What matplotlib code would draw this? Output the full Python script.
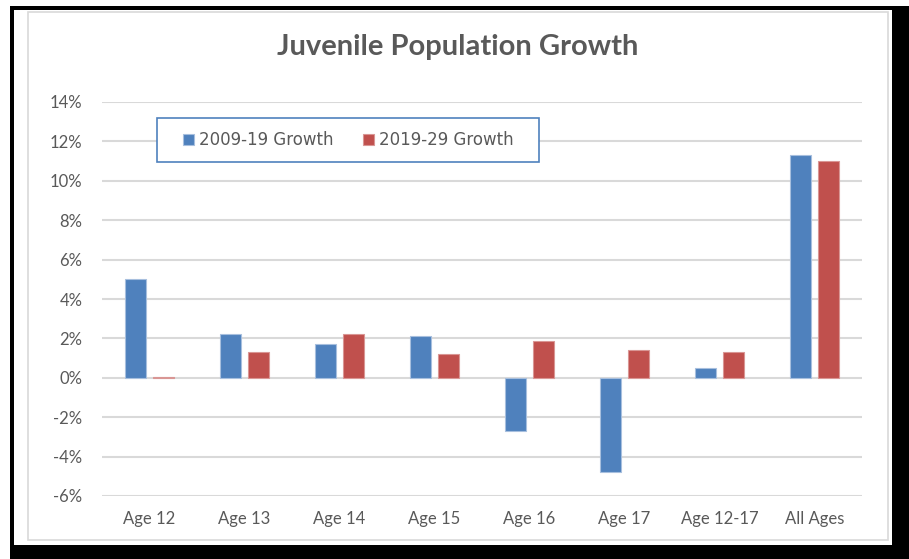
import matplotlib
matplotlib.use("Agg")
import matplotlib.pyplot as plt
import numpy as np
from matplotlib.patches import Rectangle

categories = ["Age 12", "Age 13", "Age 14", "Age 15", "Age 16", "Age 17", "Age 12-17", "All Ages"]
growth_0919 = [5.0, 2.2, 1.7, 2.1, -2.7, -4.8, 0.5, 11.3]
growth_1929 = [0.04, 1.3, 2.2, 1.2, 1.85, 1.4, 1.3, 11.0]
series_labels = ["2009-19 Growth", "2019-29 Growth"]
yticks = [-6, -4, -2, 0, 2, 4, 6, 8, 10, 12, 14]

W, H = 909, 559
BLUE = "#4F81BD"
RED = "#C0504D"
GRAY_TXT = "#595959"

fig = plt.figure(figsize=(W / 100, H / 100), dpi=100)
fig.patch.set_facecolor("white")


def px_rect(x0, y0, x1, y1, **kw):
    # rectángulo en píxeles (origen arriba a la izquierda)
    return Rectangle((x0 / W, 1 - y1 / H), (x1 - x0) / W, (y1 - y0) / H,
                     transform=fig.transFigure, **kw)


# marco negro con sombra y borde gris interior
fig.add_artist(px_rect(10, 6, 909, 559, facecolor="black", edgecolor="none", zorder=0))
fig.add_artist(px_rect(14, 10, 892, 545, facecolor="white", edgecolor="none", zorder=0))
fig.add_artist(px_rect(28, 12, 888, 540, facecolor="white", edgecolor="#D9D9D9",
                       linewidth=1.2, zorder=0))

ax = fig.add_axes([102 / W, 1 - 496 / H, 760 / W, 394 / H])
ax.set_facecolor("none")

x = np.arange(len(categories))
bw = 0.22
off = 0.145
ax.bar(x - off, growth_0919, bw, color=BLUE, edgecolor="#A7BFDE", linewidth=0.8,
       label=series_labels[0], zorder=3)
ax.bar(x + off, growth_1929, bw, color=RED, edgecolor="#D99694", linewidth=0.8,
       label=series_labels[1], zorder=3)

ax.set_xlim(-0.5, len(categories) - 0.5)
ax.set_ylim(-6, 14)
ax.set_yticks(yticks)
ax.set_yticklabels([f"{v}%" for v in yticks])
ax.set_xticks(x)
ax.set_xticklabels(categories)
ax.yaxis.grid(True, color="#D9D9D9", linewidth=1.5, zorder=0)
ax.set_axisbelow(True)
for s in ax.spines.values():
    s.set_visible(False)
ax.tick_params(axis="both", length=0, labelsize=12, labelcolor=GRAY_TXT, labelfontfamily="Lato")
ax.tick_params(axis="y", pad=14)
ax.tick_params(axis="x", pad=11)

fig.text(458 / W, 1 - 47 / H, "Juvenile Population Growth", ha="center", va="center",
         fontsize=21, fontweight="bold", color=GRAY_TXT, family="Lato")

# caja de la leyenda (píxeles 157-539 x 118-162)
fig.add_artist(px_rect(157, 118, 539, 162, facecolor="white", edgecolor=BLUE,
                       linewidth=1.2, zorder=5))
leg = fig.legend(*ax.get_legend_handles_labels(), loc="center",
                 bbox_to_anchor=(348 / W, 1 - 140 / H), ncol=2, frameon=False,
                 handlelength=0.66, handleheight=0.66, handletextpad=0.3,
                 columnspacing=1.75, borderpad=0,
                 prop={"family": "DejaVu Sans", "size": 12})
leg.set_zorder(6)
for t in leg.get_texts():
    t.set_color(GRAY_TXT)

plt.savefig("out.png", dpi=100)
plt.close()
